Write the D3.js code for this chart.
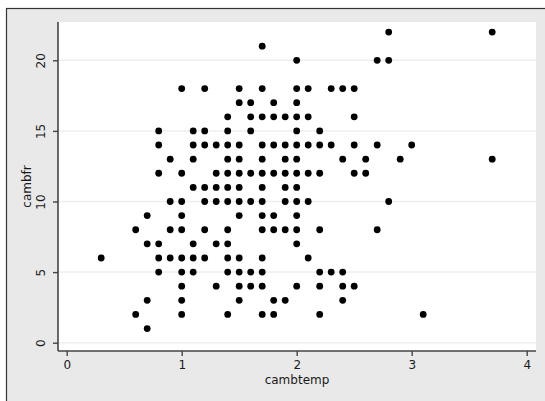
<!DOCTYPE html>
<html><head><meta charset="utf-8">
<script src="https://cdn.jsdelivr.net/npm/d3@7"></script>
<style>html,body{margin:0;padding:0;background:#fff;}svg{display:block;}</style>
</head><body>
<svg id="c" width="545" height="401"></svg>
<script>
// cambfr value (y) for each row, with the cambtemp values (x) observed at that y
const rowY = [22, 21, 20, 18, 17, 16, 15, 14, 13, 12, 11, 10, 9, 8, 7, 6, 5, 4, 3, 2, 1];
const rowX = [
  [2.8, 3.7],
  [1.7],
  [2.0, 2.7, 2.8],
  [1.0, 1.2, 1.5, 1.7, 2.0, 2.1, 2.3, 2.4, 2.5],
  [1.5, 1.6, 1.8, 2.0],
  [1.4, 1.6, 1.7, 1.8, 1.9, 2.0, 2.1, 2.5],
  [0.8, 1.1, 1.2, 1.4, 1.6, 2.0, 2.2],
  [0.8, 1.1, 1.2, 1.3, 1.4, 1.5, 1.7, 1.8, 1.9, 2.0, 2.1, 2.2, 2.3, 2.5, 2.7, 3.0],
  [0.9, 1.1, 1.4, 1.5, 1.7, 1.9, 2.0, 2.4, 2.6, 2.9, 3.7],
  [0.8, 1.0, 1.3, 1.4, 1.5, 1.6, 1.7, 1.8, 1.9, 2.0, 2.1, 2.2, 2.5, 2.6],
  [1.1, 1.2, 1.3, 1.4, 1.5, 1.7, 1.9, 2.0],
  [0.9, 1.0, 1.2, 1.3, 1.4, 1.5, 1.6, 1.7, 1.9, 2.0, 2.1, 2.8],
  [0.7, 1.0, 1.5, 1.7, 1.8, 2.0],
  [0.6, 0.9, 1.0, 1.2, 1.4, 1.7, 1.8, 1.9, 2.0, 2.2, 2.7],
  [0.7, 0.8, 1.1, 1.3, 1.4, 2.0],
  [0.3, 0.8, 0.9, 1.0, 1.1, 1.2, 1.4, 1.5, 1.7, 2.1],
  [0.8, 1.0, 1.1, 1.4, 1.5, 1.6, 1.7, 2.2, 2.3, 2.4],
  [1.0, 1.3, 1.5, 1.6, 1.7, 2.0, 2.2, 2.4, 2.5],
  [0.7, 1.0, 1.5, 1.8, 1.9, 2.4],
  [0.6, 1.0, 1.4, 1.7, 1.8, 2.2, 3.1],
  [0.7]
];
const xTicks = [0, 1, 2, 3, 4];
const yTicks = [0, 5, 10, 15, 20];
const xTitle = "cambtemp";
const yTitle = "cambfr";

const points = [];
rowY.forEach((yv, i) => rowX[i].forEach(xv => points.push({x: xv, y: yv})));

const svg = d3.select("#c");
const font = "'DejaVu Sans', sans-serif";

// outer graph region
svg.append("rect").attr("x", 6.5).attr("y", 8.5).attr("width", 545).attr("height", 400)
  .attr("fill", "#e9e9e9").attr("stroke", "#333").attr("stroke-width", 1.2);

const L = 58, R = 536, T = 22, B = 351;
svg.append("rect").attr("x", L).attr("y", T).attr("width", R - L).attr("height", B - T).attr("fill", "#fff");

const x = d3.scaleLinear().domain([0, 4]).range([66.7, 526.7]);
const y = d3.scaleLinear().domain([0, 20]).range([342.7, 60.3]);

// grid
svg.append("g").selectAll("line").data(yTicks).join("line")
  .attr("x1", L).attr("x2", R).attr("y1", d => y(d)).attr("y2", d => y(d))
  .attr("stroke", "#eeeeee").attr("stroke-width", 1.5);

// points
svg.append("g").selectAll("circle").data(points).join("circle")
  .attr("cx", d => x(d.x)).attr("cy", d => y(d.y)).attr("r", 3.4).attr("fill", "#000");

// axes
const gx = svg.append("g").attr("transform", `translate(0,${B})`)
  .call(d3.axisBottom(x).tickValues(xTicks).tickFormat(d3.format("d")).tickSize(5).tickSizeOuter(0));
gx.select(".domain").remove();
svg.append("line").attr("x1", L).attr("x2", R).attr("y1", B).attr("y2", B).attr("stroke", "#444").attr("stroke-width", 1.6);
gx.selectAll(".tick line").attr("stroke", "#444").attr("stroke-width", 1.4);
gx.selectAll(".tick text").attr("font-family", font).attr("font-size", 12).attr("fill", "#1a1a1a").attr("dy", "0.95em").attr("y", 7);

const gy = svg.append("g").attr("transform", `translate(${L},0)`)
  .call(d3.axisLeft(y).tickValues(yTicks).tickFormat(d3.format("d")).tickSize(5).tickSizeOuter(0));
gy.select(".domain").remove();
svg.append("line").attr("x1", L).attr("x2", L).attr("y1", T).attr("y2", B).attr("stroke", "#444").attr("stroke-width", 1.6);
gy.selectAll(".tick line").attr("stroke", "#444").attr("stroke-width", 1.4);
gy.selectAll(".tick text").attr("font-family", font).attr("font-size", 12).attr("fill", "#1a1a1a")
  .attr("x", null).attr("dy", null).attr("text-anchor", "middle")
  .attr("transform", "translate(-17,0) rotate(-90)").attr("dy", "0.35em");

// titles
svg.append("text").attr("x", (L + R) / 2).attr("y", 384).attr("text-anchor", "middle")
  .attr("font-family", font).attr("font-size", 12).attr("fill", "#1a1a1a").text(xTitle);
svg.append("text").attr("transform", `translate(31,${(T + B) / 2}) rotate(-90)`).attr("text-anchor", "middle")
  .attr("font-family", font).attr("font-size", 12).attr("fill", "#1a1a1a").text(yTitle);
</script>
</body></html>
